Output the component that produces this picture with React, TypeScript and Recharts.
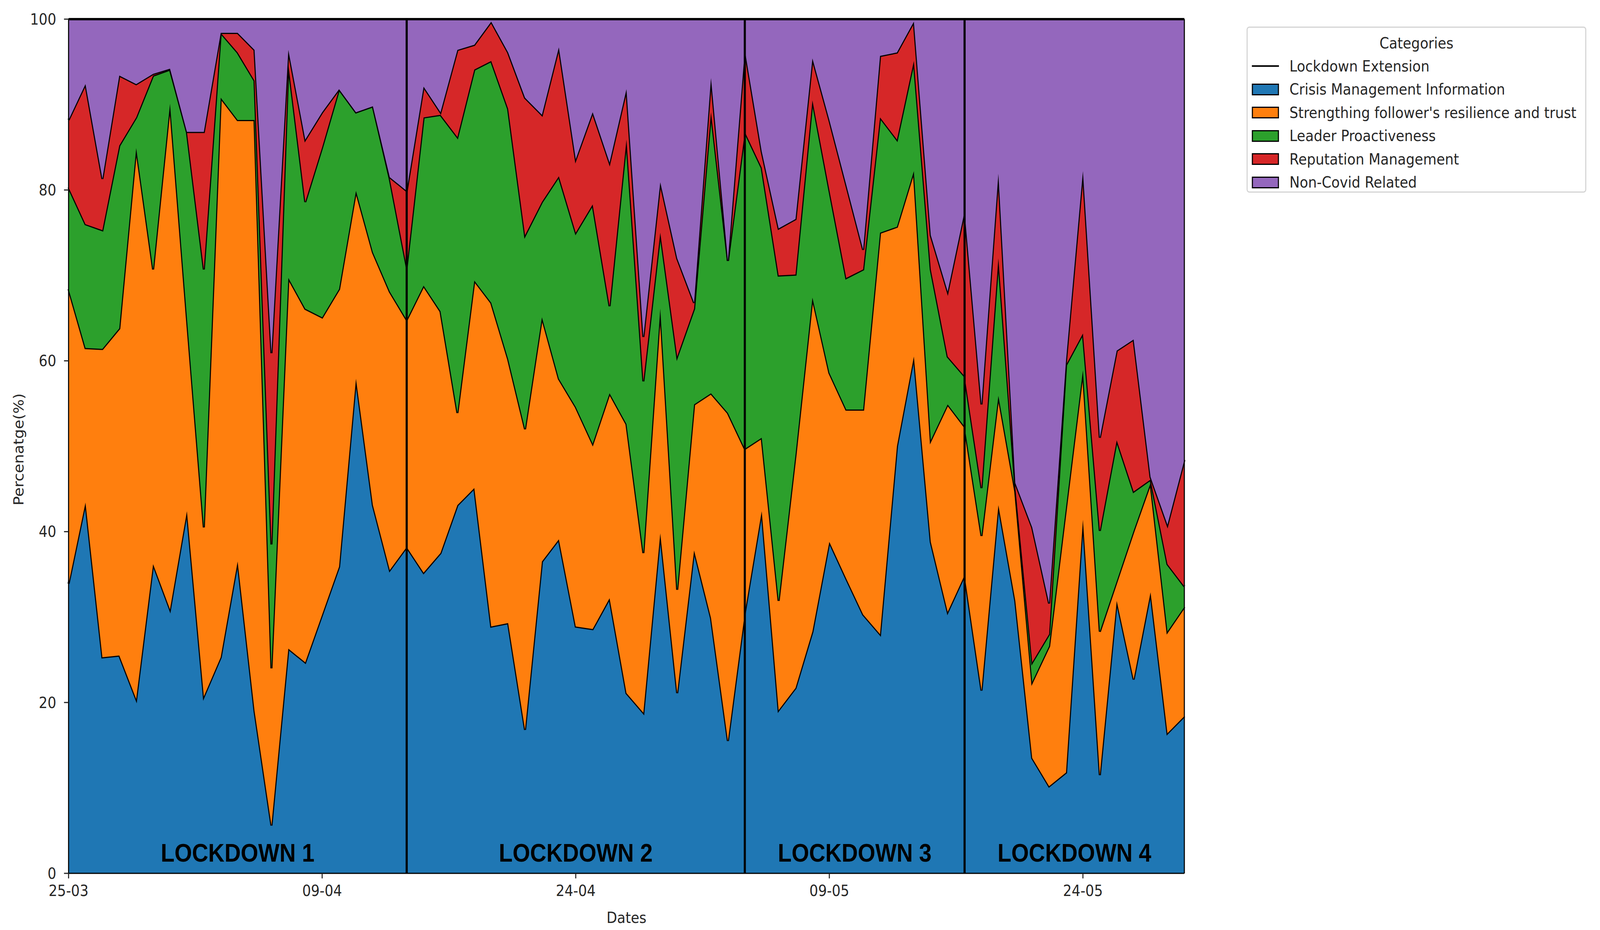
import { AreaChart, Area, XAxis, YAxis, ReferenceLine, ReferenceArea } from "recharts"

const dates = [
  "25-03", "26-03", "27-03", "28-03", "29-03", "30-03", "31-03",
  "01-04", "02-04", "03-04", "04-04", "05-04", "06-04", "07-04", "08-04", "09-04", "10-04",
  "11-04", "12-04", "13-04", "14-04", "15-04", "16-04", "17-04", "18-04", "19-04", "20-04",
  "21-04", "22-04", "23-04", "24-04", "25-04", "26-04", "27-04", "28-04", "29-04", "30-04",
  "01-05", "02-05", "03-05", "04-05", "05-05", "06-05", "07-05", "08-05", "09-05", "10-05",
  "11-05", "12-05", "13-05", "14-05", "15-05", "16-05", "17-05", "18-05", "19-05", "20-05",
  "21-05", "22-05", "23-05", "24-05", "25-05", "26-05", "27-05", "28-05", "29-05", "30-05",
]

// percentages per day, bottom to top of the stack
const crisisInfo = [
  33.9, 43.4, 25.3, 25.5, 20.4, 36.2, 30.9, 42.4, 20.7, 25.3,
  36.5, 19.0, 5.6, 26.3, 24.7, 30.3, 35.9, 57.9, 43.1, 35.5,
  38.2, 35.2, 37.5, 43.1, 45.1, 28.9, 29.3, 16.8, 36.5, 39.1,
  28.9, 28.6, 32.2, 21.1, 18.8, 39.8, 21.1, 37.8, 29.9, 15.5,
  30.5, 42.4, 19.1, 21.7, 28.3, 38.8, 34.5, 30.3, 28.0, 50.0,
  60.5, 38.8, 30.6, 34.9, 21.4, 43.1, 31.9, 13.5, 10.2, 11.8,
  41.4, 11.5, 31.9, 22.7, 32.9, 16.4, 18.4,
]
const resilience = [
  34.5, 18.1, 36.1, 38.3, 64.5, 34.5, 59.2, 22.6, 19.8, 65.5,
  51.7, 69.2, 18.4, 43.4, 41.4, 34.8, 32.5, 22.0, 29.6, 32.6,
  26.6, 33.6, 28.3, 10.8, 24.3, 37.9, 30.9, 35.2, 28.6, 18.8,
  25.7, 21.7, 24.0, 31.5, 18.7, 26.3, 12.1, 17.1, 26.3, 38.4,
  19.2, 8.6, 12.8, 27.3, 39.1, 19.8, 19.8, 24.0, 47.0, 25.7,
  21.7, 11.9, 24.3, 17.4, 18.1, 12.8, 12.8, 8.9, 16.4, 31.0,
  17.5, 16.8, 2.3, 17.4, 12.8, 11.9, 12.8,
]
const proactiveness = [
  11.9, 14.5, 13.9, 21.4, 3.6, 22.7, 4.0, 21.8, 30.2, 7.6,
  7.9, 4.6, 14.5, 25.0, 12.5, 19.9, 23.4, 9.2, 17.1, 13.2,
  6.2, 19.7, 23.0, 32.3, 24.7, 28.3, 29.3, 22.7, 13.5, 23.7,
  20.4, 28.0, 10.2, 33.3, 20.1, 8.9, 27.3, 11.2, 32.9, 17.8,
  37.1, 31.6, 38.1, 21.1, 23.1, 21.4, 15.4, 16.4, 13.5, 10.2,
  12.9, 20.0, 5.6, 5.9, 5.6, 16.1, 0.5, 2.3, 1.4, 16.7,
  4.3, 11.8, 16.5, 4.6, 0.4, 7.9, 2.4,
]
const reputation = [
  7.9, 16.4, 6.0, 8.2, 3.9, 0.2, 0.1, 0.0, 16.1, 0.0,
  2.3, 3.6, 22.4, 1.7, 7.3, 4.1, 0.0, 0.0, 0.0, 0.2,
  8.9, 3.6, 0.3, 10.2, 2.9, 4.6, 6.6, 16.1, 10.2, 15.1,
  8.6, 10.8, 16.8, 5.9, 5.2, 5.9, 11.5, 0.7, 4.0, 0.0,
  9.6, 1.9, 5.5, 6.5, 4.9, 8.2, 10.9, 2.3, 7.2, 10.2,
  4.6, 4.0, 7.6, 19.3, 9.8, 9.9, 0.5, 15.8, 3.6, 0.5,
  19.0, 10.9, 10.5, 17.8, 0.3, 4.6, 14.8,
]
const nonCovid = [
  11.8, 7.6, 18.7, 6.6, 7.6, 6.4, 5.8, 13.2, 13.2, 1.6,
  1.6, 3.6, 39.1, 3.6, 14.1, 10.9, 8.2, 10.9, 10.2, 18.5,
  20.1, 7.9, 10.9, 3.6, 3.0, 0.3, 3.9, 9.2, 11.2, 3.3,
  16.4, 10.9, 16.8, 8.2, 37.2, 19.1, 28.0, 33.2, 6.9, 28.3,
  3.6, 15.5, 24.5, 23.4, 4.6, 11.8, 19.4, 27.0, 4.3, 3.9,
  0.3, 25.3, 31.9, 22.5, 45.1, 18.1, 54.3, 59.5, 68.4, 40.0,
  17.8, 49.0, 38.8, 37.5, 53.6, 59.2, 51.6,
]

const seriesKeys = ["crisis", "resilience", "proactive", "reputation", "nonCovid"]
const seriesNames = [
  "Crisis Management Information",
  "Strengthing follower's resilience and trust",
  "Leader Proactiveness",
  "Reputation Management",
  "Non-Covid Related",
]
const seriesColors = ["#1f77b4", "#ff7f0e", "#2ca02c", "#d62728", "#9467bd"]
const seriesValues = [crisisInfo, resilience, proactiveness, reputation, nonCovid]

const yTicks = [0, 20, 40, 60, 80, 100]
const lockdownEnds = ["14-04", "04-05", "17-05"]
const lockdownStarts = ["25-03", "14-04", "04-05", "17-05"]
const lockdownStops = ["14-04", "04-05", "17-05", "30-05"]
const lockdownNames = ["LOCKDOWN 1", "LOCKDOWN 2", "LOCKDOWN 3", "LOCKDOWN 4"]

const data = dates.map((date, i) => {
  const row: Record<string, string | number> = { date }
  seriesKeys.forEach((k, s) => {
    row[k] = seriesValues[s][i]
  })
  return row
})

const W = 4550
const H = 2380
const FONT = "DejaVu Sans, sans-serif"
const tickStyle = { fontSize: 39, fill: "#262626", fontFamily: FONT }

function YLabel(props: any) {
  const vb = props.viewBox
  const x = vb.x + 53
  const y = vb.y + vb.height / 2 + 8
  return (
    <text
      x={x}
      y={y}
      transform={`rotate(-90, ${x}, ${y})`}
      textAnchor="middle"
      dominantBaseline="central"
      fontSize={39}
      fontFamily={FONT}
      fill="#262626"
    >
      Percenatge(%)
    </text>
  )
}

function LegendBox() {
  const rowTop = 98
  const step = 59.5
  return (
    <div
      style={{
        position: "absolute",
        left: 3545,
        top: 68,
        width: 966,
        height: 425,
        border: "3px solid #d4d4d4",
        borderRadius: 8,
        boxSizing: "border-box",
        background: "rgba(255,255,255,0.8)",
        fontFamily: FONT,
        fontSize: 39,
        color: "#262626",
      }}
    >
      <div style={{ position: "absolute", left: 0, right: 0, top: 14, textAlign: "center", lineHeight: "52px" }}>
        Categories
      </div>
      <div style={{ position: "absolute", left: 12, top: rowTop - 26, height: 52, display: "flex", alignItems: "center" }}>
        <div style={{ width: 77, height: 4, background: "#000" }} />
        <span style={{ marginLeft: 30, whiteSpace: "nowrap" }}>Lockdown Extension</span>
      </div>
      {seriesNames.map((name, i) => (
        <div
          key={name}
          style={{
            position: "absolute",
            left: 12,
            top: rowTop + step * (i + 1) - 26,
            height: 52,
            display: "flex",
            alignItems: "center",
          }}
        >
          <div
            style={{
              width: 77,
              height: 30,
              background: seriesColors[i],
              border: "3px solid #000",
              boxSizing: "border-box",
            }}
          />
          <span style={{ marginLeft: 30, whiteSpace: "nowrap" }}>{name}</span>
        </div>
      ))}
    </div>
  )
}

export default function App() {
  // the page may get a smaller viewport than 4550x2380: stretch the drawing to fill it
  const sx = typeof window !== "undefined" ? Math.min(window.innerWidth / W, 1) : 1
  const sy = typeof window !== "undefined" ? Math.min(window.innerHeight / H, 1) : 1
  if (typeof document !== "undefined") document.body.style.overflow = "hidden"

  return (
    <div
      style={{
        position: "fixed",
        left: 0,
        top: 0,
        width: W,
        height: H,
        background: "#fff",
        transform: `scale(${sx}, ${sy})`,
        transformOrigin: "0 0",
      }}
    >
      <AreaChart width={W} height={H} data={data} margin={{ top: 48, right: 1181, bottom: 0, left: 0 }}>
        {seriesKeys.map((k, i) => (
          <Area
            key={k}
            type="linear"
            dataKey={k}
            name={seriesNames[i]}
            stackId="1"
            stroke="#000"
            strokeWidth={6}
            fill={seriesColors[i]}
            fillOpacity={1}
            dot={false}
            activeDot={false}
            isAnimationActive={false}
          />
        ))}
        {lockdownEnds.map((d) => (
          <ReferenceLine key={d} x={d} stroke="#000" strokeWidth={6} />
        ))}
        {lockdownNames.map((name, i) => (
          <ReferenceArea
            key={name}
            x1={lockdownStarts[i]}
            x2={lockdownStops[i]}
            y1={0}
            y2={100}
            fill="none"
            fillOpacity={0}
            stroke="none"
            label={{
              value: name,
              position: "insideBottom",
              offset: 30,
              fill: "#000",
              fontSize: 64,
              fontWeight: "bold",
              fontFamily: "Liberation Sans, Arial, sans-serif",
            }}
          />
        ))}
        <XAxis
          dataKey="date"
          interval={14}
          height={145}
          tickSize={13}
          tickMargin={17}
          tick={tickStyle}
          tickLine={{ stroke: "#262626", strokeWidth: 3 }}
          axisLine={{ stroke: "#000", strokeWidth: 3 }}
          label={{ value: "Dates", position: "insideBottom", offset: 18, fontSize: 39, fill: "#262626", fontFamily: FONT }}
        />
        <XAxis
          xAxisId="top"
          orientation="top"
          dataKey="date"
          height={1}
          tick={false}
          tickLine={false}
          axisLine={{ stroke: "#000", strokeWidth: 3 }}
        />
        <YAxis
          type="number"
          domain={[0, 100]}
          ticks={yTicks}
          width={195}
          tickSize={13}
          tickMargin={22}
          tick={tickStyle}
          tickLine={{ stroke: "#262626", strokeWidth: 3 }}
          axisLine={{ stroke: "#000", strokeWidth: 3 }}
          label={{ content: YLabel }}
        />
        <YAxis
          yAxisId="right"
          orientation="right"
          type="number"
          domain={[0, 100]}
          width={1}
          tick={false}
          tickLine={false}
          axisLine={{ stroke: "#000", strokeWidth: 3 }}
        />
      </AreaChart>
      <LegendBox />
    </div>
  )
}
